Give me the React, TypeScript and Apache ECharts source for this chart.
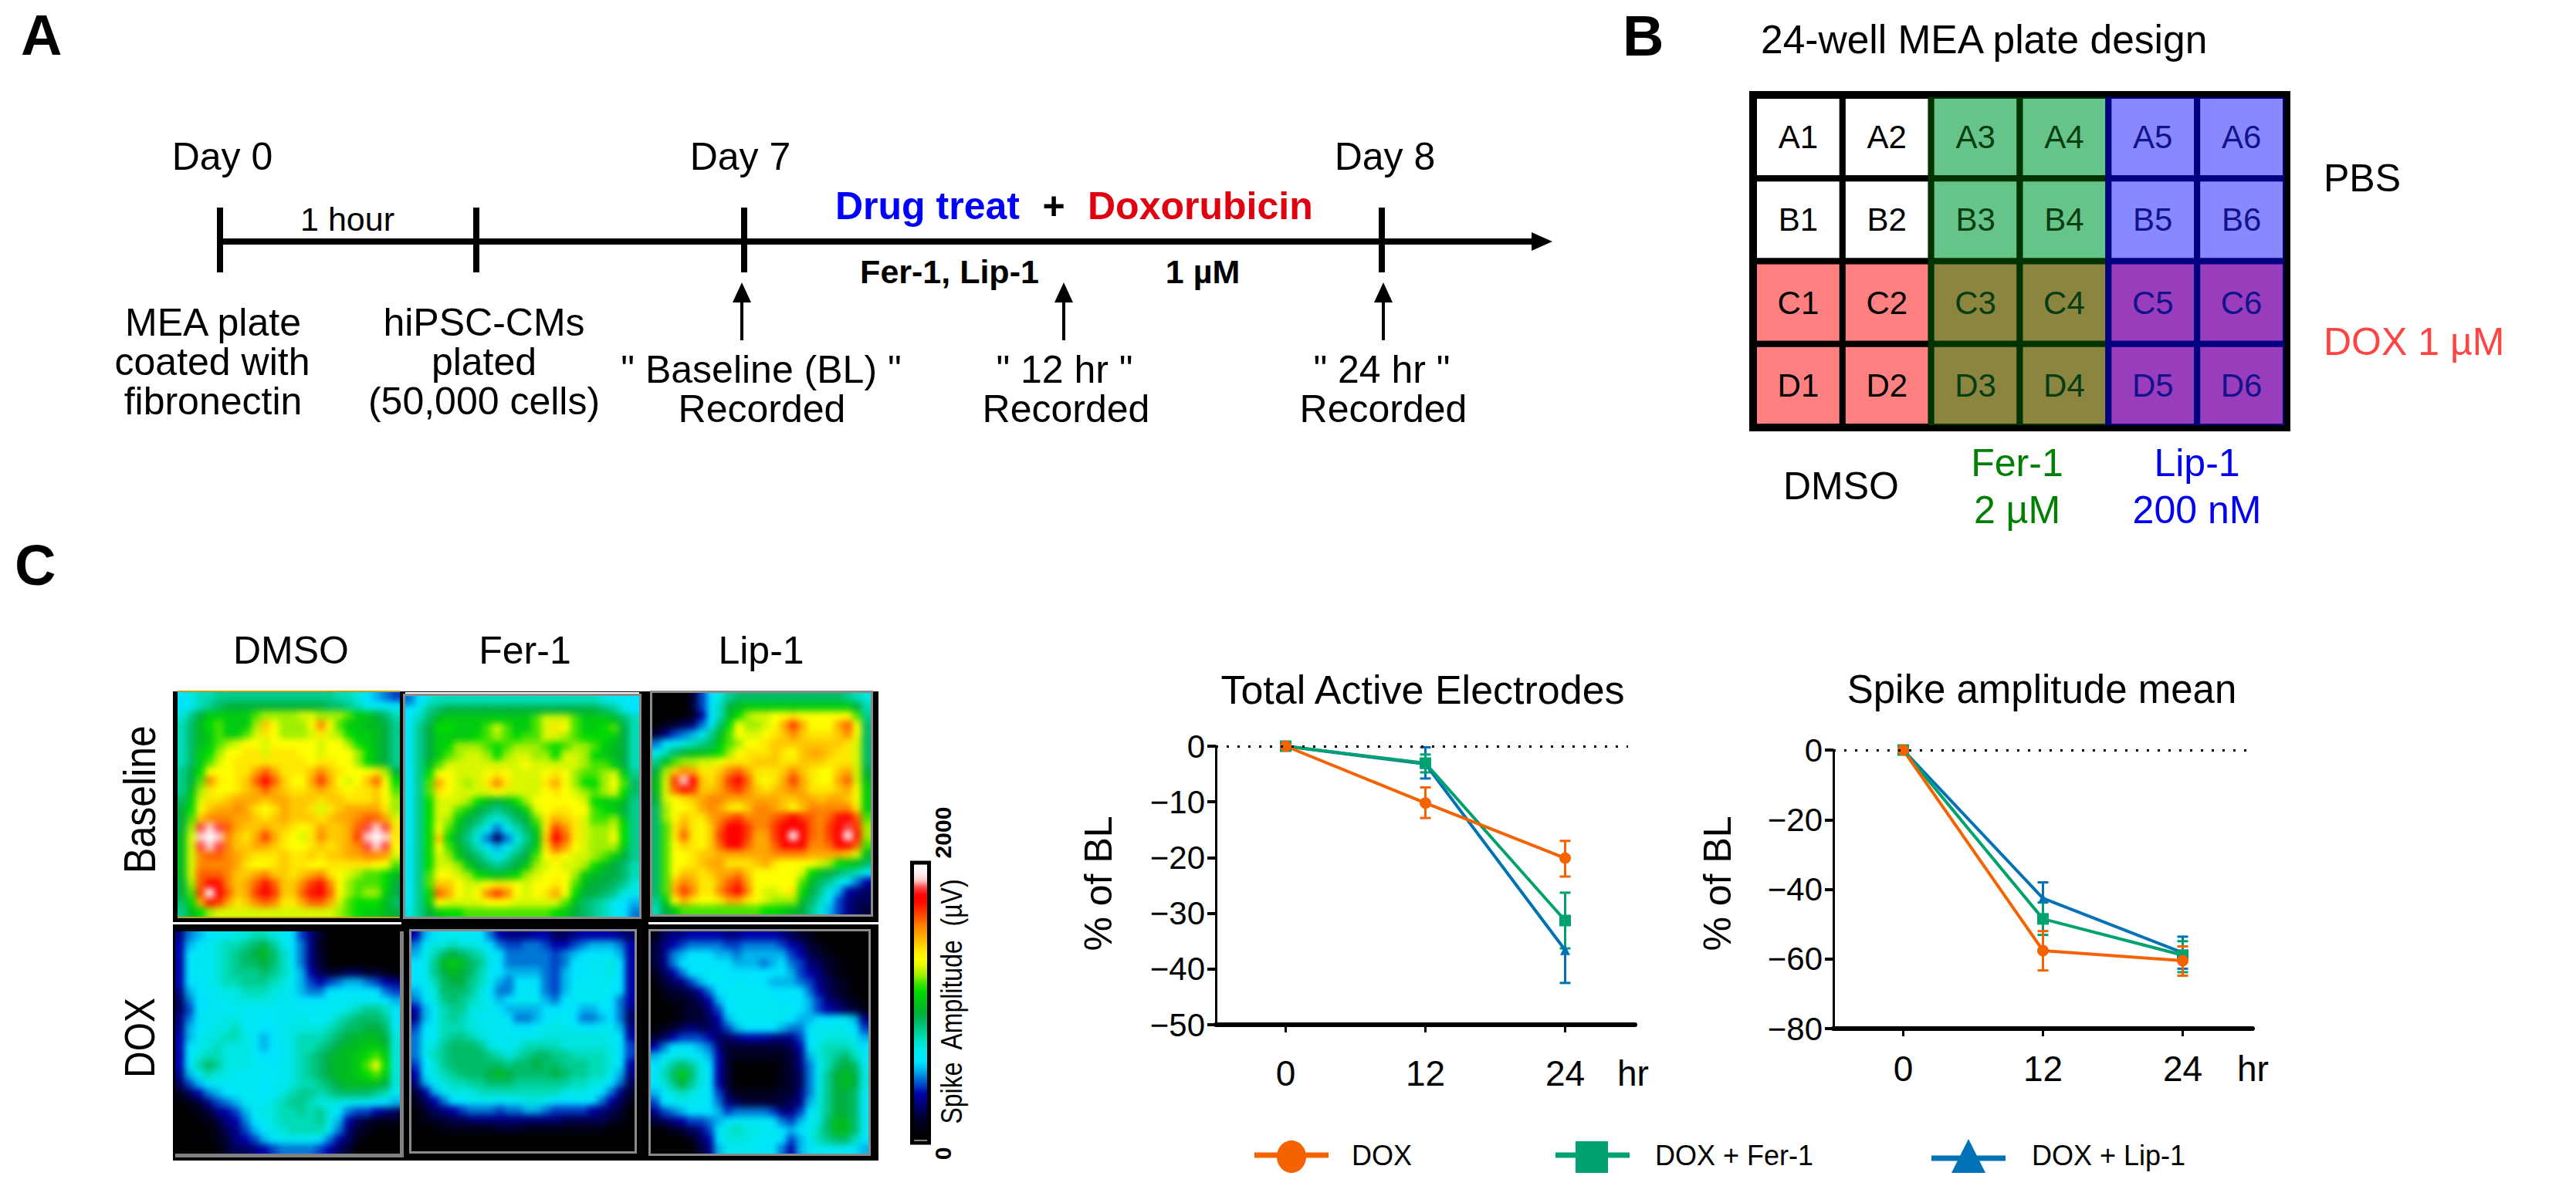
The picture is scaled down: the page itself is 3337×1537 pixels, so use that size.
import React, { useEffect, useRef } from "react";
import * as echarts from "echarts";

const FONT = "Liberation Sans";

// ---- Panel C: spike amplitude maps. Each character is one cell, 0-9a-z = level 0..35 of 2000 uV
const LEVELS = "0123456789abcdefghijklmnopqrstuvwxyz";
const MAP_BASELINE_DMSO = [
  "acdde eeeee eeeee eeddc a987", "abdef ggggg ggggg gffed bbba", "cegii iiikl lllmm lllki igfd", "dfhjk iiilp nllln rnkii hhge",
  "dfhik iikmo nlllm omlji ihge", "dfhik lmnnm nnnnn mnnlj ihge", "dfijl nnoom ooonn mnnnl jhge", "dfikm noooo oooon oonnl jhge",
  "egjnn nooqs qooop rponn nolg", "egkro nopsv spnnq tqnmn psnj", "ehlon nopqs qpoop qpono opnk", "fimoo pqqqp qqppp oppoo opnl",
  "gjnpq qrqon oqppo mopqq qqol", "gkprr rqqpo pqppp opqqr ssqm", "glwxw sqppq ppono qppqs wxwo", "hmxzx rpoqt qonmo rppqt xzxo",
  "hmwxw rppqq ponno popqr wxwn", "hmrss rqpoo opoop oppqq rrqm", "hmrrr rqonn opoon noooo onnk", "hmsss rppqr ppopq ronml kkjh",
  "glsvu rpqsu spprt urnlk kkjg", "gktzv spqtv tppsu vsnlk llig", "fjqut qoprs rooqs sqmkj jjhf", "ehjlm mmmmm mmmmm mmlkj iihg",
];
const MAP_BASELINE_FER = [
  "8acdd ddddd ddddd ddddd cbba", "acefg ggggg ggggg ggggg feca", "adfhi iiiii iiikm mmkii ihfd", "begjj iiikm kiikm onkii jkgd",
  "begii iijkl kjkkm mlkjj jigd", "begij lllkj klllk jkllk ihgd", "begik lmmlj lmmll jmmlj ihgd", "behkm mmmmm mmnmm mmmlk kigd",
  "bejnn mmmno nmmmn onlkk lmie", "bekqn mlmor ommmo qnljj lnkf", "bekon mmmmn mmmmn onmlk lmjf", "bejmm mljhg hjlnn nnnmj iihe",
  "bejmm kigfe fgimn oonnk jige", "bejml igfdc dfgko qpomk klie", "bejnk hfdb8 bdfio troml lmje", "bejpj gec84 8cehp vsoml lnje",
  "bejnk hfdb9 bdfio sqnml llie", "bejml igfdb dfgkn onmml kige", "bejmm ligfe fgilm nmmlj hgfd", "beknn mljih ijlmn nnlih ggfd",
  "bekpp nmmno onmnn onkhg gfec", "bejsq nmnrt rnmno qnjgg fecb", "beinm mmmnn nmmmm mkhfe dba9", "cegij jkkkk kkkkk jigfe dba8",
];
const MAP_BASELINE_LIP = [
  "00003 7acef fffff fffff fedc", "00003 7adgh iiiii iiiii iigd", "00002 6adhj lmmnn onnnn nnke", "12345 8bfjn llmnq tqnnn qsnf",
  "35789 behkn mmnop rpooo prnf", "8abcd efikl nnopp ppppp pomf", "bdfgh hijln ooopo npqqp oomf", "ehkll mmnoo opppo opppo oomf",
  "glprq ooprs qooop rponn pqmg", "hmtxv poqtv sonoq tqonn qsmh", "hmsut ppqst rpopq rqooo pqni", "gmnop qrrqq qqqqp pqqpq qpni",
  "flnno qrqon prrqp nprrr rroi", "flnpo oqrst rrrst vtsrs uvsk", "fkoqo npsvv trrtv vvsrt vwtl", "fkoso nptvv tqqtv zvsrt vzul",
  "fknpo npsvv sqqsv vvrrs vvsk", "fknno ppqqq qqqrr rrqqq qpmh", "fknno pqqoo opqon nnnml jihf", "fknpp opqqr pnnnn nmjhg fedb",
  "fkprq ooqst qnnnn nkhfe ca86", "fkqtr oortv rnmmn ojgeb 9654", "einqo nnoqq onmll lhfda 7544", "dgikk kkkkk kkjji hgec9 7543",
];
const MAP_DOX_DMSO = [
  "589ab bccdd cba75 31000 0000", "69abc ddefg eca85 21000 0000", "6abbc defgh fda85 31000 0000", "6abbc deffg fdb85 31000 0000",
  "6abbc deeef edb96 43344 3321", "6aabc ddeee dcb97 67899 8765", "59abb ccddd ccb98 8aaaa aa87", "48aab bcccc cbbaa abbbb bba9",
  "47abb bbbbb bbbbb bbbcd eeda", "58abb ccbba bbbcb bbdef ffea", "59abc cdbba abccc cdeff ggfb", "69bcc ddcb9 abcdd defgh hhgc",
  "6abcd cccb9 abcdd efghh iihc", "6acdd cccba abcde fghhi jkic", "6adfe cccbb abcde fghhi knjc", "59bdc cbbbb bbcde fghhi jkic",
  "479ab bbbba bbcdd efghh hhgc", "24689 abbba bcdee defff fedb", "12357 89bbb cdeed cccbb baa9", "01235 679bc cdded eca87 7654",
  "00123 568ab cdddd ec964 3222", "00012 4579a ccddd db853 2111", "00012 35679 abbbb a8642 1000", "00001 34456 78888 76431 0000",
];
const MAP_DOX_FER = [
  "69abb bba86 55566 44566 6654", "8bccd ccba8 77887 66789 9986", "9bdfg fedba 88888 789aa aa96", "abehi hfeba 88888 78aab bca6",
  "abegh gfdba 99998 79aab bca6", "abdfg gedb9 8aaa8 79abb bba6", "9bcff feca8 8aba8 79bbb bba6", "8acef edcb9 abbb9 8abbb ba86",
  "69bde eccba 9999a aaa99 aa85", "59bde dcbbb a889a bba88 9a84", "7abdd dccbb baabb cbbaa bb95", "8abde edcbb bbbbc ccccc cba6",
  "8bcef ffecb bcddd dcccc cca7", "8bdef fffed cdeff eeddd dca7", "7acef fffff effgf feeed dca6", "6acde fffgh gffff gfeed db95",
  "59bcd deeff feeee eeddc ca84", "369bc ccddd ddddd dcccb a853", "2468a abbba bbccb aaaaa 8642", "13456 78887 88998 77776 5431",
  "12334 45555 55555 54444 4321", "11122 22223 33222 22222 2111", "00000 00000 00000 00000 0000", "00000 00000 00000 00000 0000",
];
const MAP_DOX_LIP = [
  "24556 66655 66665 43210 0000", "35678 88877 88887 65321 0000", "3589a aa998 99999 76432 1000", "358aa aaaa9 9989a 87543 2100",
  "2468a abbaa aaaaa 97653 2110", "13457 9abab baa99 98754 3211", "12334 68abb bbbaa aa864 3211", "01223 469ab bbbba aa975 4321",
  "00123 357ab bbbbb ba976 5432", "00123 3469b bbbbb a99aa ab95", "12345 44579 aaaa9 88abb cba7", "34677 76445 66655 57abc ccb9",
  "68aaa 98533 33333 46acd ddca", "9bbcb a9632 22222 359cd efdb", "acefe ca631 11112 358bd fgfb", "adfif ca630 00012 348be ghgc",
  "acege ca631 10112 348be ghgc", "9bcdc ba742 22223 358ce ggfb", "7abbb ba854 33333 459ce ggfb", "5789a aa978 88875 57ace ggfb",
  "34567 789ab bbba8 79bcf hhfb", "11234 57acd ccbba 9abdf hhfb", "00012 46acc cbbba 79bde ffda", "00001 359bb bbaa8 69abb bba9",
];
const MAP_COLORS = [
  "#000000", "#000005", "#00001a", "#000033", "#00005a", "#000082", "#0000a8", "#0040c8", "#0078d8", "#00b4ec",
  "#00e4ff", "#00e8f4", "#00e6e2", "#00dcb8", "#00cc90", "#00bc68", "#00b040", "#00bc20", "#00cc10", "#00dc00",
  "#48e400", "#a0f000", "#d8f800", "#ffff00", "#ffe800", "#ffc800", "#ffa800", "#ff8800", "#ff6000", "#ff3800",
  "#ff1000", "#ff0000", "#ff4040", "#ffd0d0", "#fff4f4", "#ffffff",
];
const MAPS = [MAP_BASELINE_DMSO, MAP_BASELINE_FER, MAP_BASELINE_LIP, MAP_DOX_DMSO, MAP_DOX_FER, MAP_DOX_LIP];
const MAP_BOXES = [
  [230, 897, 288, 291], [525, 902, 303, 286], [845, 898, 283, 287],
  [227, 1207, 291, 288], [533, 1207, 289, 285], [843, 1207, 282, 288],
];
const MAP_BLUR = 4;

// ---- Panel B: plate
const PLATE_ROWS = ["A", "B", "C", "D"];
const PLATE_COLS = ["1", "2", "3", "4", "5", "6"];
const PLATE_FILL = [
  ["#ffffff", "#ffffff", "#66c488", "#66c488", "#8888ff", "#8888ff"],
  ["#ffffff", "#ffffff", "#66c488", "#66c488", "#8888ff", "#8888ff"],
  ["#ff8080", "#ff8080", "#8c8540", "#8c8540", "#993dbd", "#993dbd"],
  ["#ff8080", "#ff8080", "#8c8540", "#8c8540", "#993dbd", "#993dbd"],
];
const PLATE_LINE = ["#000000", "#000000", "#003300", "#003300", "#000080", "#000080"];
const PLATE_TEXT = ["#000000", "#000000", "#063d12", "#063d12", "#12128c", "#12128c"];

// ---- Line charts
const HOURS = [0, 12, 24];
const ACTIVE_DOX = [0, -10.2, -20.1];
const ACTIVE_DOX_LOW = [0, -12.9, -23.4];
const ACTIVE_DOX_HIGH = [0, -7.4, -17];
const ACTIVE_FER = [0, -3.05, -31.3];
const ACTIVE_FER_LOW = [0, -4.7, -36.3];
const ACTIVE_FER_HIGH = [0, -1.5, -26.3];
const ACTIVE_LIP = [0, -3.2, -36.6];
const ACTIVE_LIP_LOW = [0, -5.8, -42.5];
const ACTIVE_LIP_HIGH = [0, -0.2, -30.9];
const SPIKE_DOX = [0, -57.6, -60.5];
const SPIKE_DOX_LOW = [0, -63.3, -64.8];
const SPIKE_DOX_HIGH = [0, -52, -56.4];
const SPIKE_FER = [0, -48.5, -58.9];
const SPIKE_FER_LOW = [0, -53.1, -63.8];
const SPIKE_FER_HIGH = [0, -43.8, -54.9];
const SPIKE_LIP = [0, -42.6, -58.2];
const SPIKE_LIP_LOW = [0, -47.3, -62.8];
const SPIKE_LIP_HIGH = [0, -38, -53.6];
const ORANGE = "#f56200";
const GREEN = "#00a170";
const BLUE = "#0072b5";

const txt = (text: string, x: number, base: number, size: number, o: any = {}) => ({
  type: "text",
  z: 20,
  style: {
    text,
    x,
    y: base - 0.3465 * size,
    align: o.align || "center",
    verticalAlign: "middle",
    fill: o.fill || "#000",
    font: `${o.bold ? "bold " : ""}${size}px "${FONT}"`,
  },
});
const vtxt = (text: string, x: number, y: number, size: number, o: any = {}) => ({
  type: "text",
  z: 20,
  x,
  y,
  rotation: Math.PI / 2,
  scaleY: o.stretch || 1,
  style: { text, x: 0, y: 0, align: "center", verticalAlign: "middle", fill: "#000", font: `${o.bold ? "bold " : ""}${size}px "${FONT}"` },
});
const seg = (x1: number, y1: number, x2: number, y2: number, w: number, c = "#000") => ({
  type: "line",
  z: 15,
  shape: { x1, y1, x2, y2 },
  style: { stroke: c, lineWidth: w },
});
const box = (x: number, y: number, w: number, h: number, fill: string, z = 0) => ({
  type: "rect",
  z,
  shape: { x, y, width: w, height: h },
  style: { fill },
});
const frame = (x: number, y: number, w: number, h: number, stroke: string, lw: number, z = 10) => ({
  type: "rect",
  z,
  shape: { x, y, width: w, height: h },
  style: { fill: "none", stroke, lineWidth: lw },
});
const poly = (pts: number[][], fill: string) => ({ type: "polygon", z: 15, shape: { points: pts }, style: { fill } });

function errorSeries(name: string, idx: number, color: string, low: number[], high: number[]) {
  return {
    type: "custom",
    name: name + " error",
    xAxisIndex: idx,
    yAxisIndex: idx,
    clip: false,
    silent: true,
    z: 3,
    encode: { x: 0, y: [1, 2] },
    data: HOURS.map((h, i) => [h, low[i], high[i]]),
    renderItem: (_: any, api: any) => {
      const a = api.coord([api.value(0), api.value(1)]);
      const b = api.coord([api.value(0), api.value(2)]);
      const st = { stroke: color, lineWidth: 3, fill: "none" };
      return {
        type: "group",
        children: [
          { type: "line", shape: { x1: a[0], y1: a[1], x2: b[0], y2: b[1] }, style: st },
          { type: "line", shape: { x1: a[0] - 7, y1: a[1], x2: a[0] + 7, y2: a[1] }, style: st },
          { type: "line", shape: { x1: b[0] - 7, y1: b[1], x2: b[0] + 7, y2: b[1] }, style: st },
        ],
      };
    },
  };
}
function lineSeries(name: string, idx: number, color: string, values: number[], symbol: string, size: number, width: number) {
  return {
    type: "line",
    name,
    xAxisIndex: idx,
    yAxisIndex: idx,
    symbol,
    symbolSize: size,
    clip: false,
    silent: true,
    z: 4,
    lineStyle: { color, width },
    itemStyle: { color },
    data: HOURS.map((h, i) => [h, values[i]]),
  };
}
function refLine(idx: number, end: number) {
  return {
    type: "line",
    xAxisIndex: idx,
    yAxisIndex: idx,
    symbol: "none",
    silent: true,
    z: 1,
    data: [] as number[][],
    markLine: {
      silent: true,
      symbol: "none",
      animation: false,
      label: { show: false },
      lineStyle: { color: "#000", width: 3, type: [3, 11] },
      data: [[{ coord: [-6, 0] }, { coord: [end, 0] }]],
    },
  };
}

function mapOption(raw: string[]) {
  const rows = raw.map((s) => s.replace(/ /g, ""));
  // one repeated cell on every side, so that the softening has no dark rim inside the clip
  const padded = [rows[0], ...rows, rows[rows.length - 1]].map((r) => r[0] + r + r[r.length - 1]);
  return {
    animation: false,
    grid: { left: 0, top: 0, right: 0, bottom: 0 },
    xAxis: { type: "category", show: false, data: [...padded[0]].map((_, i) => i) },
    yAxis: { type: "category", show: false, inverse: true, data: padded.map((_, i) => i) },
    visualMap: { show: false, type: "continuous", min: 0, max: 2000, inRange: { color: MAP_COLORS } },
    series: [
      {
        type: "heatmap",
        silent: true,
        progressive: 0,
        data: padded.flatMap((row, r) => [...row].map((ch, c) => [c, r, Math.round((LEVELS.indexOf(ch) * 2000) / 35)])),
      },
    ],
  };
}

function buildOption() {
  const grids: any[] = [];
  const xAxes: any[] = [];
  const yAxes: any[] = [];
  const series: any[] = [];

  // plate
  grids.push({ left: 2272, top: 124, width: 689, height: 429 });
  xAxes.push({ type: "category", gridIndex: 0, show: false, data: PLATE_COLS });
  yAxes.push({ type: "category", gridIndex: 0, show: false, inverse: true, data: PLATE_ROWS });
  series.push({
    type: "custom",
    xAxisIndex: 0,
    yAxisIndex: 0,
    silent: true,
    clip: false,
    encode: { x: 0, y: 1 },
    data: PLATE_ROWS.flatMap((_, r) => PLATE_COLS.map((__, c) => [c, r])),
    renderItem: (_: any, api: any) => {
      const c = api.value(0);
      const r = api.value(1);
      const p = api.coord([c, r]);
      const s = api.size([1, 1]);
      return {
        type: "group",
        children: [
          {
            type: "rect",
            shape: { x: p[0] - s[0] / 2, y: p[1] - s[1] / 2, width: s[0], height: s[1] },
            style: { fill: PLATE_FILL[r][c], stroke: PLATE_LINE[c], lineWidth: 8 },
          },
          {
            type: "text",
            style: {
              text: PLATE_ROWS[r] + PLATE_COLS[c],
              x: p[0],
              y: p[1],
              align: "center",
              verticalAlign: "middle",
              fill: PLATE_TEXT[c],
              font: `42px "${FONT}"`,
            },
          },
        ],
      };
    },
  });

  // line charts
  const axisCommon = {
    axisLine: { onZero: false, lineStyle: { color: "#000", width: 3 } },
    splitLine: { show: false },
  };
  [
    { left: 1575, width: 543, top: 967, height: 361, min: -50, interval: 10, margin: 40 },
    { left: 2375, width: 543, top: 972, height: 361, min: -80, interval: 20, margin: 29 },
  ].forEach((c, k) => {
    grids.push({ left: c.left, top: c.top, width: c.width, height: c.height });
    xAxes.push({
      type: "value",
      gridIndex: 1 + k,
      min: -6,
      max: 30,
      ...axisCommon,
      axisLine: { onZero: false, lineStyle: { color: "#000", width: 6 } },
      axisTick: { length: 10, lineStyle: { color: "#000", width: 3 }, customValues: HOURS },
      axisLabel: { customValues: HOURS, fontFamily: FONT, fontSize: 46, color: "#000", margin: c.margin, verticalAlign: "top" },
    });
    yAxes.push({
      type: "value",
      gridIndex: 1 + k,
      min: c.min,
      max: 0,
      interval: c.interval,
      ...axisCommon,
      axisTick: { length: 11, lineStyle: { color: "#000", width: 4 } },
      axisLabel: {
        fontFamily: FONT,
        fontSize: 42,
        color: "#000",
        margin: 14,
        padding: [0, 0, 10, 0],
        formatter: (v: number) => String(v).replace("-", "\u2212"),
      },
    });
  });
  series.push(
    refLine(1, 29.4),
    errorSeries("DOX + Lip-1", 1, BLUE, ACTIVE_LIP_LOW, ACTIVE_LIP_HIGH),
    errorSeries("DOX + Fer-1", 1, GREEN, ACTIVE_FER_LOW, ACTIVE_FER_HIGH),
    errorSeries("DOX", 1, ORANGE, ACTIVE_DOX_LOW, ACTIVE_DOX_HIGH),
    lineSeries("DOX + Lip-1", 1, BLUE, ACTIVE_LIP, "triangle", 13, 4),
    lineSeries("DOX + Fer-1", 1, GREEN, ACTIVE_FER, "rect", 15, 4),
    lineSeries("DOX", 1, ORANGE, ACTIVE_DOX, "circle", 15, 4),
    refLine(2, 30),
    errorSeries("DOX + Lip-1", 2, BLUE, SPIKE_LIP_LOW, SPIKE_LIP_HIGH),
    errorSeries("DOX + Fer-1", 2, GREEN, SPIKE_FER_LOW, SPIKE_FER_HIGH),
    errorSeries("DOX", 2, ORANGE, SPIKE_DOX_LOW, SPIKE_DOX_HIGH),
    lineSeries("DOX + Lip-1", 2, BLUE, SPIKE_LIP, "triangle", 13, 4),
    lineSeries("DOX + Fer-1", 2, GREEN, SPIKE_FER, "rect", 15, 4),
    lineSeries("DOX", 2, ORANGE, SPIKE_DOX, "circle", 15, 4),
  );

  const g: any[] = [];
  // panel letters
  g.push(txt("A", 27, 71, 74, { align: "left", bold: true }), txt("B", 2102, 72, 74, { align: "left", bold: true }), txt("C", 19, 758, 74, { align: "left", bold: true }));
  // panel A timeline
  g.push(seg(285, 313, 1990, 313, 8), poly([[1984, 301], [2011, 313], [1984, 325]], "#000"));
  [285, 617, 964, 1790].forEach((x) => g.push(seg(x, 269, x, 353, 8)));
  [961, 1378, 1792].forEach((x) => {
    g.push(seg(x, 389, x, 441, 4), poly([[x - 12, 392], [x, 366], [x + 12, 392]], "#000"));
  });
  g.push(
    txt("Day 0", 288, 220, 50), txt("Day 7", 959, 220, 50), txt("Day 8", 1794, 220, 50),
    txt("1 hour", 450, 299, 43),
    txt("Drug treat", 1082, 284, 50, { align: "left", bold: true, fill: "#0000ff" }),
    txt("+", 1365, 284, 50, { bold: true }),
    txt("Doxorubicin", 1409, 284, 50, { align: "left", bold: true, fill: "#e00010" }),
    txt("Fer-1, Lip-1", 1230, 367, 43, { bold: true }),
    txt("1 \u00b5M", 1558, 367, 43, { bold: true }),
    txt("MEA plate", 276, 435, 50), txt("coated with", 275, 486, 50), txt("fibronectin", 276, 537, 50),
    txt("hiPSC-CMs", 627, 435, 50), txt("plated", 627, 486, 50), txt("(50,000 cells)", 627, 537, 50),
    txt('" Baseline (BL) "', 986, 496, 50), txt("Recorded", 987, 547, 50),
    txt('" 12 hr "', 1379, 496, 50), txt("Recorded", 1381, 547, 50),
    txt('" 24 hr "', 1790, 496, 50), txt("Recorded", 1792, 547, 50),
  );
  // panel B
  g.push(
    frame(2270, 122, 693, 433, "#000", 8),
    txt("24-well MEA plate design", 2281, 69, 51.5, { align: "left" }),
    txt("PBS", 3010, 248, 50, { align: "left" }),
    txt("DOX 1 \u00b5M", 3010, 460, 50, { align: "left", fill: "#ff4444" }),
    txt("DMSO", 2385, 647, 50),
    txt("Fer-1", 2613, 617, 50, { fill: "#008000" }), txt("2 \u00b5M", 2613, 678, 50, { fill: "#008000" }),
    txt("Lip-1", 2846, 617, 50, { fill: "#0000ee" }), txt("200 nM", 2846, 678, 50, { fill: "#0000ee" }),
  );
  // panel C maps: black backing and frames; the maps themselves are laid over them
  g.push(box(224, 896, 914, 608, "#000", 0), box(224, 1195, 296, 3, "#fff", 1), box(840, 1195, 298, 3, "#fff", 1), box(525, 897, 303, 3, "#fff", 1));
  MAP_BOXES.forEach(([x, y, w, h], i) => {
    if (i === 3) {
      g.push(box(x + w, y, 5, h + 5, "#808080", 10), box(x, y + h, w + 5, 5, "#808080", 10));
    } else if (i === 0) {
      g.push(box(x, y - 2, w, 2, "#c0a020", 10), box(x, y + h, w, 2, "#c0a020", 10));
    } else {
      g.push(frame(x - 1.5, y - 1.5, w + 3, h + 3, "#8a8a8a", 3));
    }
  });
  g.push(
    txt("DMSO", 377, 860, 50), txt("Fer-1", 680, 860, 50), txt("Lip-1", 986, 860, 50),
    vtxt("Baseline", 181, 1036, 50, { stretch: 1.15 }), vtxt("DOX", 181, 1345, 48, { stretch: 1.15 }),
    frame(1181.5, 1118, 22, 363, "#000", 5),
    seg(1185, 1478, 1201, 1478, 1, "#fff"),
    vtxt("2000", 1221, 1079, 30, { bold: true }), vtxt("0", 1221, 1495, 30, { bold: true }),
    vtxt("Spike  Amplitude  (\u00b5V)", 1233, 1298, 32, { stretch: 1.22 }),
  );
  // line chart texts
  g.push(
    txt("Total Active Electrodes", 1843, 912, 52), txt("Spike amplitude mean", 2645, 911, 51),
    vtxt("% of BL", 1423, 1145, 50), vtxt("% of BL", 2225, 1145, 50),
    txt("hr", 2095, 1407, 46, { align: "left" }), txt("hr", 2898, 1401, 46, { align: "left" }),
  );
  // legend
  g.push(
    seg(1625, 1497, 1721, 1497, 7, ORANGE), { type: "ellipse", z: 15, shape: { cx: 1673, cy: 1499, rx: 19, ry: 21 }, style: { fill: ORANGE } },
    txt("DOX", 1751, 1510, 36, { align: "left" }),
    seg(2015, 1497, 2111, 1497, 7, GREEN), box(2041, 1479, 42, 41, GREEN, 15),
    txt("DOX + Fer-1", 2144, 1510, 36, { align: "left" }),
    seg(2502, 1501, 2598, 1501, 7, BLUE), poly([[2528, 1520], [2550, 1476], [2572, 1520]], BLUE),
    txt("DOX + Lip-1", 2632, 1510, 36, { align: "left" }),
  );

  return {
    animation: false,
    backgroundColor: "#fff",
    textStyle: { fontFamily: FONT },
    grid: grids,
    xAxis: xAxes,
    yAxis: yAxes,
    visualMap: {
      type: "continuous",
      min: 0,
      max: 2000,
      seriesIndex: [],
      left: 1184,
      top: 1120,
      itemWidth: 18,
      itemHeight: 359,
      padding: 0,
      calculable: false,
      hoverLink: false,
      inRange: { color: MAP_COLORS },
    },
    series,
    graphic: { elements: g },
  };
}

function MapPanel({ rows, rect }: { rows: string[]; rect: number[] }) {
  const ref = useRef<HTMLDivElement>(null);
  const [x, y, w, h] = rect;
  const cw = w / 24;
  const ch = h / 24;
  useEffect(() => {
    const chart = echarts.init(ref.current!, undefined, { renderer: "svg" });
    chart.setOption(mapOption(rows) as any);
    return () => chart.dispose();
  }, []);
  return (
    <div style={{ position: "fixed", left: x, top: y, width: w, height: h, overflow: "hidden" }}>
      <div
        ref={ref}
        style={{ position: "absolute", left: -cw, top: -ch, width: w + 2 * cw, height: h + 2 * ch, filter: `blur(${MAP_BLUR}px)` }}
      />
    </div>
  );
}

export default function App() {
  const ref = useRef<HTMLDivElement>(null);
  useEffect(() => {
    document.body.style.margin = "0";
    const chart = echarts.init(ref.current!, undefined, { renderer: "svg" });
    chart.setOption(buildOption() as any);
    return () => chart.dispose();
  }, []);
  return (
    <>
      <div ref={ref} style={{ position: "fixed", left: 0, top: 0, width: 3337, height: 1537 }} />
      {MAPS.map((rows, i) => (
        <MapPanel key={i} rows={rows} rect={MAP_BOXES[i]} />
      ))}
    </>
  );
}
